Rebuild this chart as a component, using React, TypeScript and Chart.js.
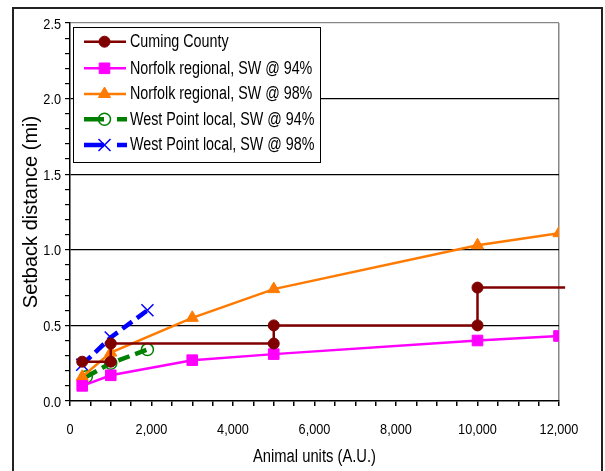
import React, { useEffect, useRef } from "react";
import { Chart, registerables } from "chart.js";

Chart.register(...registerables);

// ---- data ----
const cumingX = [300, 1000, 1000, 5000, 5000, 10000, 10000, 12150];
const cumingY = [0.26, 0.26, 0.38, 0.38, 0.5, 0.5, 0.75, 0.75];
const norfolkX = [300, 1000, 3000, 5000, 10000, 12000];
const norfolk94 = [0.1, 0.17, 0.27, 0.31, 0.4, 0.43];
const norfolk98 = [0.16, 0.32, 0.55, 0.74, 1.03, 1.11];
const westPoint94X = [400, 1000, 1900];
const westPoint94 = [0.16, 0.25, 0.34];
const westPoint98X = [300, 1000, 1900];
const westPoint98 = [0.24, 0.42, 0.6];
const seriesLabels = [
  "Cuming County",
  "Norfolk regional, SW @ 94%",
  "Norfolk regional, SW @ 98%",
  "West Point local, SW @ 94%",
  "West Point local, SW @ 98%",
];
const xTickValues = [0, 2000, 4000, 6000, 8000, 10000, 12000];
const xTickLabels = ["0", "2,000", "4,000", "6,000", "8,000", "10,000", "12,000"];
const yTickValues = [0, 0.5, 1, 1.5, 2, 2.5];
const yTickLabels = ["0.0", "0.5", "1.0", "1.5", "2.0", "2.5"];
const xTitle = "Animal units (A.U.)";
const yTitle = "Setback distance (mi)";

const FONT = "'Liberation Sans', Arial, sans-serif";

const zip = (xs: number[], ys: number[]) => xs.map((x, i) => ({ x, y: ys[i] }));

function fillNarrow(
  ctx: CanvasRenderingContext2D,
  text: string,
  x: number,
  y: number,
  size: number,
  sx: number,
  align: CanvasTextAlign,
  baseline: CanvasTextBaseline
) {
  ctx.save();
  ctx.translate(x, y);
  ctx.scale(sx, 1);
  ctx.font = `${size}px ${FONT}`;
  ctx.textAlign = align;
  ctx.textBaseline = baseline;
  ctx.fillStyle = "#000";
  ctx.fillText(text, 0, 0);
  ctx.restore();
}

function drawMarker(ctx: CanvasRenderingContext2D, ds: any, x: number, y: number) {
  const style = ds.pointStyle;
  const r = Array.isArray(ds.pointRadius) ? ds.pointRadius[0] : ds.pointRadius;
  ctx.save();
  ctx.setLineDash([]);
  ctx.fillStyle = ds.pointBackgroundColor;
  ctx.strokeStyle = ds.pointBorderColor;
  ctx.lineWidth = ds.pointBorderWidth;
  ctx.beginPath();
  if (style === "circle") {
    ctx.arc(x, y, r, 0, Math.PI * 2);
    ctx.fill();
    ctx.stroke();
  } else if (style === "rect") {
    const s = Math.SQRT1_2 * r;
    ctx.rect(x - s, y - s, 2 * s, 2 * s);
    ctx.fill();
    ctx.stroke();
  } else if (style === "triangle") {
    let a = 0;
    ctx.moveTo(x + Math.sin(a) * r, y - Math.cos(a) * r);
    a += (2 * Math.PI) / 3;
    ctx.lineTo(x + Math.sin(a) * r, y - Math.cos(a) * r);
    a += (2 * Math.PI) / 3;
    ctx.lineTo(x + Math.sin(a) * r, y - Math.cos(a) * r);
    ctx.closePath();
    ctx.fill();
    ctx.stroke();
  } else if (style === "crossRot") {
    const d = Math.cos(Math.PI / 4) * r;
    ctx.moveTo(x - d, y - d);
    ctx.lineTo(x + d, y + d);
    ctx.moveTo(x + d, y - d);
    ctx.lineTo(x - d, y + d);
    ctx.stroke();
  }
  ctx.restore();
}

const framePlugin = {
  id: "frame",
  beforeDraw(chart: any) {
    const ctx = chart.ctx;
    ctx.save();
    ctx.fillStyle = "#fff";
    ctx.fillRect(0, 0, chart.width, chart.height);
    ctx.strokeStyle = "#222";
    ctx.lineWidth = 2;
    ctx.strokeRect(13, 8, 589, 520);
    ctx.restore();
  },
  afterDraw(chart: any) {
    const ctx = chart.ctx;
    const area = chart.chartArea;
    const xs = chart.scales.x;
    const ys = chart.scales.y;
    ctx.save();

    // tick labels, placed through the library's scales
    xTickValues.forEach((v, i) => {
      fillNarrow(ctx, xTickLabels[i], xs.getPixelForValue(v), 433.5, 15.5, 0.82, "center", "alphabetic");
    });
    yTickValues.forEach((v, i) => {
      fillNarrow(ctx, yTickLabels[i], 61, ys.getPixelForValue(v) + 5.6, 15.5, 0.82, "right", "alphabetic");
    });

    // axis titles
    fillNarrow(ctx, xTitle, (area.left + area.right) / 2, 457, 18, 0.82, "center", "middle");
    ctx.save();
    ctx.translate(31, (area.top + area.bottom) / 2);
    ctx.rotate(-Math.PI / 2);
    ctx.font = `20px ${FONT}`;
    ctx.fillStyle = "#000";
    ctx.textAlign = "center";
    ctx.textBaseline = "middle";
    ctx.fillText(yTitle, 0, 0);
    ctx.restore();

    // legend
    const lx = 73, ly = 27, lw = 247, lh = 135;
    ctx.fillStyle = "#fff";
    ctx.fillRect(lx, ly, lw, lh);
    ctx.strokeStyle = "#000";
    ctx.lineWidth = 1;
    ctx.strokeRect(lx + 0.5, ly + 0.5, lw, lh);
    const rows = [41.7, 68.3, 94, 119.3, 145];
    chart.data.datasets.forEach((ds: any, i: number) => {
      const y = rows[i];
      ctx.save();
      ctx.strokeStyle = ds.borderColor;
      ctx.lineWidth = ds.borderWidth;
      ctx.beginPath();
      if (ds.borderDash && ds.borderDash.length) {
        ctx.moveTo(84, y);
        ctx.lineTo(104, y);
        ctx.moveTo(117, y);
        ctx.lineTo(127, y);
      } else {
        ctx.moveTo(84, y);
        ctx.lineTo(126, y);
      }
      ctx.stroke();
      ctx.restore();
      drawMarker(ctx, ds, 104.5, y);
      fillNarrow(ctx, ds.label, 130, y + 0.5, 18, 0.795, "left", "middle");
    });
    ctx.restore();
  },
};

const isMult = (v: number, step: number) => Math.abs(v / step - Math.round(v / step)) < 1e-6;

export default function App() {
  const ref = useRef<HTMLCanvasElement>(null);
  useEffect(() => {
    document.body.style.margin = "0";
    const ctx = ref.current!.getContext("2d")!;
    const chart = new Chart(ctx, {
      type: "scatter",
      data: {
        datasets: [
          {
            label: seriesLabels[0],
            data: zip(cumingX, cumingY),
            showLine: true,
            borderColor: "#800000",
            borderWidth: 2.5,
            pointStyle: "circle",
            pointRadius: cumingX.map((_, i) => (i === cumingX.length - 1 ? 0 : 5.5)),
            pointBackgroundColor: "#800000",
            pointBorderColor: "#800000",
            pointBorderWidth: 1,
            clip: false as any,
          },
          {
            label: seriesLabels[1],
            data: zip(norfolkX, norfolk94),
            showLine: true,
            borderColor: "#ff00ff",
            borderWidth: 2.5,
            pointStyle: "rect",
            pointRadius: 7.5,
            pointBackgroundColor: "#ff00ff",
            pointBorderColor: "#ff00ff",
            pointBorderWidth: 1,
          },
          {
            label: seriesLabels[2],
            data: zip(norfolkX, norfolk98),
            showLine: true,
            borderColor: "#ff7a00",
            borderWidth: 2.5,
            pointStyle: "triangle",
            pointRadius: 7,
            pointBackgroundColor: "#ff7a00",
            pointBorderColor: "#ff7a00",
            pointBorderWidth: 1,
          },
          {
            label: seriesLabels[3],
            data: zip(westPoint94X, westPoint94),
            showLine: true,
            borderColor: "#008000",
            borderWidth: 4.5,
            borderDash: [12, 6],
            pointStyle: "circle",
            pointRadius: 6,
            pointBackgroundColor: "rgba(0,0,0,0)",
            pointBorderColor: "#008000",
            pointBorderWidth: 1.5,
          },
          {
            label: seriesLabels[4],
            data: zip(westPoint98X, westPoint98),
            showLine: true,
            borderColor: "#0000ff",
            borderWidth: 4.5,
            borderDash: [12, 6],
            pointStyle: "crossRot",
            pointRadius: 8.5,
            pointBackgroundColor: "#0000ff",
            pointBorderColor: "#0000ff",
            pointBorderWidth: 1.5,
          },
        ],
      },
      options: {
        responsive: false,
        animation: false,
        layout: { padding: { left: 0, top: 23, right: 46, bottom: 0 } },
        plugins: { legend: { display: false }, tooltip: { enabled: false } },
        scales: {
          x: {
            type: "linear",
            min: 0,
            max: 12000,
            afterFit: (s: any) => {
              s.height = 70;
            },
            border: { display: true, color: "#000", width: 1.5 },
            grid: {
              color: (c: any) => (c.tick && c.tick.value === 12000 ? "#888" : "rgba(0,0,0,0)"),
              tickColor: "#000",
              tickLength: 5,
              lineWidth: 1.5,
            },
            ticks: {
              stepSize: 500,
              autoSkip: false,
              maxRotation: 0,
              callback: () => "",
            },
          },
          y: {
            min: 0,
            max: 2.5,
            afterFit: (s: any) => {
              s.width = 70;
            },
            border: { display: true, color: "#000", width: 1.5 },
            grid: {
              color: (c: any) => {
                const v = c.tick ? c.tick.value : 0;
                if (Math.abs(v - 2.5) < 1e-6) return "#888";
                if (v > 0.01 && isMult(v, 0.5)) return "#000";
                return "rgba(0,0,0,0)";
              },
              tickColor: "#000",
              tickLength: 5,
              lineWidth: 1.2,
            },
            ticks: {
              stepSize: 0.1,
              autoSkip: false,
              callback: () => "",
            },
          },
        },
      },
      plugins: [framePlugin],
    });
    return () => chart.destroy();
  }, []);
  return (
    <div style={{ width: 605, height: 471 }}>
      <canvas ref={ref} width={605} height={471} />
    </div>
  );
}
